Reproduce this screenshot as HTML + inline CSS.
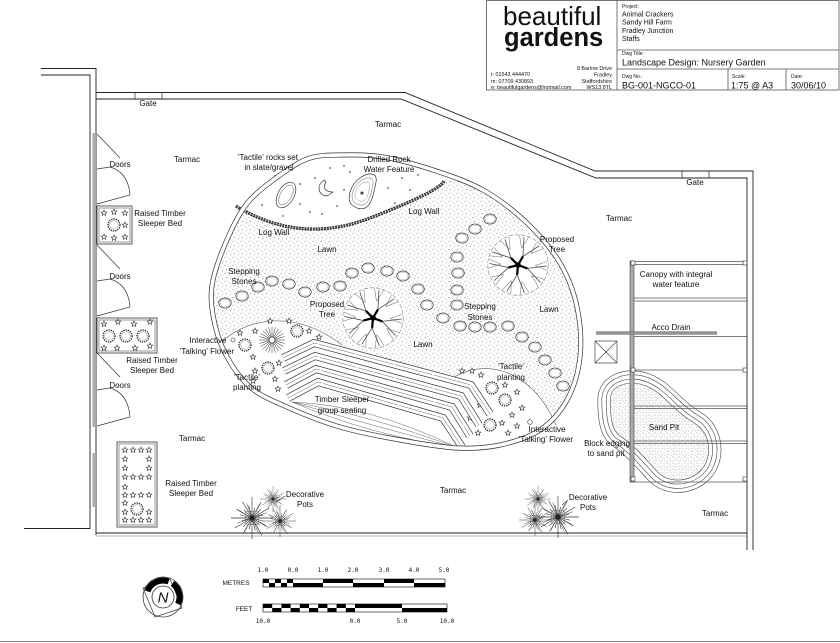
<!DOCTYPE html>
<html><head><meta charset="utf-8"><style>
html,body{margin:0;padding:0;background:#fff}
svg{display:block}
text{font-family:"Liberation Sans",sans-serif;fill:#111}
.l{font-size:8px;text-anchor:middle}
</style></head><body>
<svg width="840" height="643" viewBox="0 0 840 643" xmlns="http://www.w3.org/2000/svg">
<defs>
<pattern id="stp" width="8" height="8" patternUnits="userSpaceOnUse"><rect width="8" height="8" fill="#fff"/><circle cx="1" cy="1.5" r=".55" fill="#777"/><circle cx="5" cy="3" r=".5" fill="#888"/><circle cx="2.5" cy="5.5" r=".5" fill="#777"/><circle cx="6.5" cy="6.8" r=".55" fill="#888"/><circle cx="4" cy=".4" r=".4" fill="#999"/><circle cx="7.2" cy="4.2" r=".4" fill="#999"/></pattern>
<pattern id="snd" width="6" height="6" patternUnits="userSpaceOnUse"><rect width="6" height="6" fill="#fff"/><circle cx="1" cy="1" r=".5" fill="#777"/><circle cx="4" cy="2" r=".5" fill="#888"/><circle cx="2" cy="4.2" r=".5" fill="#777"/><circle cx="5" cy="5" r=".45" fill="#888"/></pattern>
<clipPath id="lc"><path d="M213 280 C215.8 266.3 223.8 246.3 230 233 C236.2 219.7 241.2 210 250 200 C258.8 190 273 180 283 173 C293 166 300.5 161 310 158 C319.5 155 327.8 155.2 340 155 C352.2 154.8 367.5 154.5 383 157 C398.5 159.5 416.3 164.5 433 170 C449.7 175.5 467.3 181.2 483 190 C498.7 198.8 514.2 210.8 527 223 C539.8 235.2 551.7 249 560 263 C568.3 277 573.7 291.3 577 307 C580.3 322.7 581.7 341.5 580 357 C578.3 372.5 573.7 387.8 567 400 C560.3 412.2 551.2 422.5 540 430 C528.8 437.5 513.8 442 500 445 C486.2 448 473.7 448.8 457 448 C440.3 447.2 419.5 443.5 400 440 C380.5 436.5 358.8 432.5 340 427 C321.2 421.5 302 413.7 287 407 C272 400.3 260.3 396 250 387 C239.7 378 231.2 365 225 353 C218.8 341 215 327.2 213 315 C211 302.8 210.2 293.7 213 280 Z"/></clipPath>
<path id="lawn" d="M213 280 C215.8 266.3 223.8 246.3 230 233 C236.2 219.7 241.2 210 250 200 C258.8 190 273 180 283 173 C293 166 300.5 161 310 158 C319.5 155 327.8 155.2 340 155 C352.2 154.8 367.5 154.5 383 157 C398.5 159.5 416.3 164.5 433 170 C449.7 175.5 467.3 181.2 483 190 C498.7 198.8 514.2 210.8 527 223 C539.8 235.2 551.7 249 560 263 C568.3 277 573.7 291.3 577 307 C580.3 322.7 581.7 341.5 580 357 C578.3 372.5 573.7 387.8 567 400 C560.3 412.2 551.2 422.5 540 430 C528.8 437.5 513.8 442 500 445 C486.2 448 473.7 448.8 457 448 C440.3 447.2 419.5 443.5 400 440 C380.5 436.5 358.8 432.5 340 427 C321.2 421.5 302 413.7 287 407 C272 400.3 260.3 396 250 387 C239.7 378 231.2 365 225 353 C218.8 341 215 327.2 213 315 C211 302.8 210.2 293.7 213 280 Z"/>
<path id="star" d="M0,-3 L0.76,-1.05 L2.85,-0.93 L1.24,0.4 L1.76,2.43 L0,1.3 L-1.76,2.43 L-1.24,0.4 L-2.85,-0.93 L-0.76,-1.05Z" fill="#fff" stroke="#333" stroke-width=".6"/>
<g id="shrub"><circle r="6" fill="#fff" stroke="#222" stroke-width="1.3" stroke-dasharray="1.3 1"/><circle r="4.3" fill="none" stroke="#666" stroke-width=".4"/></g>
<g id="stone"><ellipse rx="6.2" ry="5" fill="#fff" stroke="#444" stroke-width=".8"/><ellipse rx="4.8" ry="3.8" fill="none" stroke="#999" stroke-width=".4"/></g>
<g id="tree">
<circle r="29" fill="#fff"/>
<circle r="27.5" fill="none" stroke="#888" stroke-width=".6" stroke-dasharray="4 1.5"/>
<path d="M15.6 .5L26.8 -3.3M15.6 .5L26.5 5.2M12.3 9.6L23.6 13.1M12.3 9.6L18.4 19.7M3.5 15.2L10.1 25M3.5 15.2L1.9 26.9M-6.1 14.3L-6.5 26.2M-6.1 14.3L-14.3 22.9M-13.1 8.5L-20.1 18.1M-13.1 8.5L-24.7 11M-15.6 -.8L-26.9 2.8M-15.6 -.8L-26.4 -5.6M-13.9 -7.1L-25.7 -8.3M-13.9 -7.1L-21.8 -15.9M-7.1 -13.9L-15.9 -21.8M-7.1 -13.9L-8.3 -25.7M3.2 -15.2L1.4 -27M3.2 -15.2L9.7 -25.2M11.6 -10.4L17 -21M11.6 -10.4L22.6 -14.7" stroke="#777" stroke-width=".5" fill="none"/>
<path d="M8.5 3.1L26 .9M8.5 3.1L20.5 16M-.8 9L5.8 25.3M-.8 9L-10.2 23.9M-8.7 2.3L-21.8 14.2M-8.7 2.3L-26 -1.4M-6.4 -6.4L-23.2 -11.8M-6.4 -6.4L-11.8 -23.2M4.5 -7.8L5.4 -25.4M4.5 -7.8L19.3 -17.4" stroke="#444" stroke-width=".7" fill="none"/>
<path d="M0 0L8.5 3.1M0 0L-.8 9M0 0L-8.7 2.3M0 0L-6.4 -6.4M0 0L4.5 -7.8" stroke="#000" stroke-width="2" fill="none"/>
<circle r="2.6" fill="#000"/>
</g>
<g id="pot">
<rect x="-6" y="-6" width="12" height="12" fill="none" stroke="#888" stroke-width=".5"/>
<path d="M0 0L20 0M0 0L11.6 3.1M0 0L14.7 8.5M0 0L7.1 7.1M0 0L9.5 16.5M0 0L3.1 11.6M0 0L0 20M0 0L-2.8 10.6M0 0L-8 13.9M0 0L-8.5 8.5M0 0L-16.5 9.5M0 0L-9.7 2.6M0 0L-20 0M0 0L-11.6 -3.1M0 0L-14.7 -8.5M0 0L-7.8 -7.8M0 0L-9 -15.6M0 0L-3.1 -11.6M0 0L0 -20M0 0L2.6 -9.7M0 0L8.5 -14.7M0 0L8.5 -8.5M0 0L16.5 -9.5M0 0L10.6 -2.8" stroke="#333" stroke-width=".6"/>
<path d="M0 0L13 7M0 0L6 14M0 0L-7 13M0 0L-14 5M0 0L-13 -7M0 0L-5 -14M0 0L7 -13M0 0L14 -5" stroke="#555" stroke-width=".5"/>
<circle r="2" fill="#222"/>
</g>
<path id="burst" d="M3 0L13 0M2.9 .78L12.6 3.4M2.6 1.5L11.3 6.5M2.1 2.1L9.2 9.2M1.5 2.6L6.5 11.3M.78 2.9L3.4 12.6M0 3L0 13M-.78 2.9L-3.4 12.6M-1.5 2.6L-6.5 11.3M-2.1 2.1L-9.2 9.2M-2.6 1.5L-11.3 6.5M-2.9 .78L-12.6 3.4M-3 0L-13 0M-2.9 -.78L-12.6 -3.4M-2.6 -1.5L-11.3 -6.5M-2.1 -2.1L-9.2 -9.2M-1.5 -2.6L-6.5 -11.3M-.78 -2.9L-3.4 -12.6M0 -3L0 -13M.78 -2.9L3.4 -12.6M1.5 -2.6L6.5 -11.3M2.1 -2.1L9.2 -9.2M2.6 -1.5L11.3 -6.5M2.9 -.78L12.6 -3.4" stroke="#222" stroke-width=".5"/>
</defs>
<rect width="840" height="643" fill="#fff"/>

<!-- TITLE BLOCK -->
<g stroke="#555" stroke-width=".8" fill="none">
<rect x="486.5" y="0.5" width="352.5" height="89.5"/>
<line x1="617" y1="0" x2="617" y2="90"/>
<line x1="617" y1="50" x2="839" y2="50"/>
<line x1="617" y1="69" x2="839" y2="69"/>
<line x1="728" y1="69" x2="728" y2="90"/>
<line x1="786" y1="69" x2="786" y2="90"/>
</g>
<text x="503" y="25" style="font-size:26px">beautiful</text>
<text x="504" y="46" style="font-size:25.5px;font-weight:bold">gardens</text>
<g style="font-size:5.4px">
<text x="491" y="76">t: 01543 444470</text>
<text x="491" y="83">m: 07709 430893</text>
<text x="491" y="89">e: beautifulgardens@hotmail.com</text>
<text x="612" y="70" text-anchor="end">8 Barlow Drive</text>
<text x="612" y="76.5" text-anchor="end">Fradley</text>
<text x="612" y="83" text-anchor="end">Staffordshire</text>
<text x="612" y="89" text-anchor="end">WS13 8TL</text>
</g>
<text x="622" y="8" style="font-size:5px">Project:</text>
<g style="font-size:7px">
<text x="622" y="16.5">Animal Crackers</text>
<text x="622" y="24.5">Sandy Hill Farm</text>
<text x="622" y="33">Fradley Junction</text>
<text x="622" y="41">Staffs</text>
</g>
<text x="622" y="55" style="font-size:5px">Dwg Title:</text>
<text x="622" y="65.5" style="font-size:9px">Landscape Design: Nursery Garden</text>
<text x="622" y="78" style="font-size:5px">Dwg No.:</text>
<text x="622" y="88.5" style="font-size:9px">BG-001-NGCO-01</text>
<text x="732" y="78" style="font-size:5px">Scale:</text>
<text x="731" y="88.5" style="font-size:9px">1:75 @ A3</text>
<text x="791" y="78" style="font-size:5px">Date:</text>
<text x="791" y="88.5" style="font-size:9px">30/06/10</text>

<!-- BOUNDARIES -->
<g stroke="#222" stroke-width=".9" fill="none">
<path d="M41 68.5 H96 V535"/>
<path d="M41 75 H90 V528.5 H24"/>
<path d="M96 92.5 H405 L595 171 H753 V550"/>
<path d="M96 99 H401 L596 178 H747 V550"/>
<line x1="96" y1="533" x2="747" y2="533"/>
<line x1="96" y1="536" x2="747" y2="536" stroke="#777" stroke-width=".6"/>
<path d="M135 92.5V99M162 92.5V99M682 171V178M709 171V178" stroke-width=".7"/>
</g>
<rect x="92.5" y="133" width="3.5" height="294" fill="#aaa"/>
<rect x="92.5" y="453" width="3.5" height="54" fill="#aaa"/>
<!-- doors -->
<g stroke="#333" stroke-width=".7" fill="none">
<path d="M97 134L120 158M97 169L110 167Q128 172 130 195L97 204"/>
<path d="M97 245L120 269M97 281L110 279Q128 284 130 307L97 316"/>
<path d="M97 353L120 377M97 390L110 388Q128 393 130 417L97 426"/>
</g>
<!-- raised beds -->
<g stroke="#333" stroke-width=".8" fill="#fff">
<rect x="97" y="206" width="35" height="38"/><rect x="99" y="208" width="31" height="34" fill="none" stroke-width=".5"/>
<rect x="97" y="318" width="60" height="35"/><rect x="99" y="320" width="56" height="31" fill="none" stroke-width=".5"/>
<rect x="117" y="442" width="40" height="85"/><rect x="119" y="444" width="36" height="81" fill="none" stroke-width=".5"/>
</g>
<use href="#shrub" x="114" y="225"/>
<use href="#star" x="104" y="213"/><use href="#star" x="114" y="212"/><use href="#star" x="125" y="213"/><use href="#star" x="125" y="225"/><use href="#star" x="104" y="237"/><use href="#star" x="114" y="238"/><use href="#star" x="125" y="237"/>
<use href="#shrub" x="109" y="336"/><use href="#shrub" x="126" y="336"/><use href="#shrub" x="143" y="336"/>
<use href="#star" x="104" y="324"/><use href="#star" x="118" y="322"/><use href="#star" x="134" y="324"/><use href="#star" x="150" y="322"/><use href="#star" x="104" y="348"/><use href="#star" x="117" y="348"/><use href="#star" x="135" y="348"/><use href="#star" x="150" y="346"/>
<g>
<use href="#star" x="125" y="450"/><use href="#star" x="133" y="450"/><use href="#star" x="141" y="450"/><use href="#star" x="149" y="450"/>
<use href="#star" x="125" y="459"/><use href="#star" x="149" y="459"/><use href="#star" x="125" y="468"/><use href="#star" x="149" y="468"/>
<use href="#star" x="125" y="477"/><use href="#star" x="133" y="477"/><use href="#star" x="141" y="477"/><use href="#star" x="149" y="477"/>
<use href="#star" x="125" y="487"/><use href="#star" x="125" y="495"/><use href="#star" x="133" y="495"/><use href="#star" x="141" y="495"/><use href="#star" x="149" y="495"/>
<use href="#star" x="125" y="503"/><use href="#star" x="125" y="512"/><use href="#star" x="149" y="512"/>
<use href="#star" x="125" y="520"/><use href="#star" x="133" y="520"/><use href="#star" x="141" y="520"/><use href="#star" x="149" y="520"/>
<use href="#shrub" x="137" y="509"/>
</g>

<!-- LAWN -->
<use href="#lawn" fill="url(#stp)"/>
<g clip-path="url(#lc)" fill="#fff">
<path d="M225 215 L236 206 Q300 245 370 218 T442 182 L470 170 L470 120 L200 120 L200 215 Z"/>
<path d="M218 348 C236 322 290 305 342 345 L452 378 C480 356 530 365 556 425 L600 470 L200 470 Z"/>
</g>
<g stroke="#555" stroke-width=".6" fill="none">
<path d="M220 344 C240 322 290 305 342 345"/>
<path d="M450 380 C480 358 530 365 556 425"/>
</g>
<!-- gravel marks -->
<g fill="none" stroke="#555" stroke-width=".5">
<circle cx="265" cy="185" r=".9"/><circle cx="275" cy="176" r=".9"/><circle cx="300" cy="204" r=".9"/><circle cx="310" cy="212" r=".9"/><circle cx="322" cy="214" r=".9"/><circle cx="337" cy="206" r=".9"/><circle cx="344" cy="190" r=".9"/><circle cx="350" cy="172" r=".9"/><circle cx="344" cy="166" r=".9"/><circle cx="292" cy="170" r=".9"/><circle cx="262" cy="205" r=".9"/><circle cx="283" cy="216" r=".9"/><circle cx="315" cy="178" r=".9"/><circle cx="402" cy="178" r=".9"/><circle cx="410" cy="190" r=".9"/><circle cx="418" cy="175" r=".9"/><circle cx="395" cy="203" r=".9"/><circle cx="330" cy="168" r=".9"/><circle cx="256" cy="196" r=".9"/><circle cx="388" cy="188" r=".9"/><circle cx="300" cy="184" r=".9"/>
</g>
<!-- rocks -->
<g fill="none" stroke="#333" stroke-width=".7">
<ellipse cx="286" cy="195" rx="8" ry="14" transform="rotate(30 286 195)"/>
<ellipse cx="286" cy="195" rx="5.5" ry="11" transform="rotate(30 286 195)" stroke-width=".4"/>
<path d="M324 180 C316 186 318 195 327 196 L333 192 C326 192 322 188 326 182 Z"/>
<path d="M352 205 C346 200 350 185 360 178 C368 172 378 172 376 182 C374 192 372 205 365 208 C360 210 356 208 352 205 Z"/>
<path d="M352 205 C346 200 350 185 360 178 C368 172 378 172 376 182 C374 192 372 205 365 208 C360 210 356 208 352 205 Z" transform="translate(362 192) scale(.78) translate(-362 -192)" stroke-width=".5"/>
<path d="M352 205 C346 200 350 185 360 178 C368 172 378 172 376 182 C374 192 372 205 365 208 C360 210 356 208 352 205 Z" transform="translate(362 192) scale(.55) translate(-362 -192)" stroke-width=".5"/>
<circle cx="362" cy="193" r="1.2" fill="#555"/>
</g>
<!-- log wall -->
<path d="M236 206 Q300 245 370 218 T444 181" fill="none" stroke="#222" stroke-width="3.2" stroke-dasharray="2 .8"/>
<path d="M236 206 Q300 245 370 218 T444 181" fill="none" stroke="#bbb" stroke-width=".5"/>

<!-- stepping stones -->
<g>
<use href="#stone" x="225" y="303"/><use href="#stone" x="242" y="296"/><use href="#stone" x="258" y="287"/><use href="#stone" x="272" y="281"/><use href="#stone" x="289" y="284"/><use href="#stone" x="305" y="292"/><use href="#stone" x="323" y="287"/><use href="#stone" x="340" y="286"/><use href="#stone" x="352" y="273"/><use href="#stone" x="368" y="268"/><use href="#stone" x="387" y="271"/><use href="#stone" x="403" y="276"/><use href="#stone" x="418" y="289"/><use href="#stone" x="427" y="305"/><use href="#stone" x="443" y="318"/><use href="#stone" x="460" y="326"/><use href="#stone" x="475" y="327"/><use href="#stone" x="490" y="327"/><use href="#stone" x="508" y="326"/><use href="#stone" x="522" y="337"/><use href="#stone" x="535" y="347"/><use href="#stone" x="545" y="360"/><use href="#stone" x="555" y="373"/><use href="#stone" x="563" y="386"/><use href="#stone" x="457" y="257"/><use href="#stone" x="458" y="273"/><use href="#stone" x="457" y="290"/><use href="#stone" x="457" y="305"/><use href="#stone" x="462" y="238"/><use href="#stone" x="475" y="229"/><use href="#stone" x="490" y="219"/>
</g>
<!-- trees -->
<use href="#tree" transform="translate(373 318) scale(1.1)"/>
<use href="#tree" transform="translate(518 265) scale(1.1)"/>

<!-- planting left lobe -->
<use href="#burst" transform="translate(272 340)"/>
<circle cx="272" cy="340" r="3" fill="#fff" stroke="#222" stroke-width=".6"/>
<use href="#shrub" x="245" y="345"/><use href="#shrub" x="297" y="331"/><use href="#shrub" x="268" y="368"/>
<use href="#star" x="255" y="331"/><use href="#star" x="270" y="321"/><use href="#star" x="289" y="321"/><use href="#star" x="309" y="331"/><use href="#star" x="319" y="337"/><use href="#star" x="240" y="333"/><use href="#star" x="253" y="357"/><use href="#star" x="255" y="371"/><use href="#star" x="279" y="363"/><use href="#star" x="275" y="379"/><use href="#star" x="278" y="389"/><use href="#star" x="253" y="381"/>
<circle cx="233" cy="340" r="2" fill="#fff" stroke="#333" stroke-width=".6"/>
<!-- planting right lobe -->
<use href="#shrub" x="492" y="388"/><use href="#shrub" x="505" y="400"/><use href="#shrub" x="490" y="425"/>
<use href="#star" x="462" y="371"/><use href="#star" x="472" y="371"/><use href="#star" x="481" y="375"/><use href="#star" x="505" y="385"/><use href="#star" x="517" y="392"/><use href="#star" x="522" y="408"/><use href="#star" x="512" y="415"/><use href="#star" x="502" y="423"/><use href="#star" x="508" y="433"/><use href="#star" x="517" y="426"/><use href="#star" x="480" y="405"/><use href="#star" x="478" y="433"/><use href="#star" x="470" y="418"/>
<circle cx="530" cy="422" r="2.3" fill="#fff" stroke="#333" stroke-width=".6"/>

<!-- seating floor lines -->
<g fill="none" stroke="#666" stroke-width=".5">
<path d="M292 402 Q370 405 458 448"/>
<path d="M292 402 Q370 415 458 448"/>
<path d="M292 402 Q370 425 458 448"/>
<path d="M292 402 Q370 435 458 448"/>
</g>
<!-- benches -->
<g fill="none" stroke-linejoin="miter">
<g stroke="#333" stroke-width="7.8">
<polyline points="283,358 314,343 471,385 490,414"/>
<polyline points="284,371 315,356 461,396 479,425"/>
<polyline points="286,385 316,369 452,407 470,436"/>
<polyline points="288,398 318,382 443,418 462,447"/>
</g>
<g stroke="#fff" stroke-width="6.4">
<polyline points="283,358 314,343 471,385 490,414"/>
<polyline points="284,371 315,356 461,396 479,425"/>
<polyline points="286,385 316,369 452,407 470,436"/>
<polyline points="288,398 318,382 443,418 462,447"/>
</g>
<g stroke="#666" stroke-width=".5" stroke-dasharray="38 1.5">
<polyline points="283,358 314,343 471,385 490,414"/>
<polyline points="284,371 315,356 461,396 479,425"/>
<polyline points="286,385 316,369 452,407 470,436"/>
<polyline points="288,398 318,382 443,418 462,447"/>
</g>
</g>
<!-- lawn outline -->
<use href="#lawn" fill="none" stroke="#333" stroke-width="5"/>
<use href="#lawn" fill="none" stroke="#fff" stroke-width="3.6"/>

<!-- X box & drain -->
<g stroke="#444" stroke-width=".7" fill="none">
<rect x="595" y="341" width="22" height="22"/>
<path d="M595 341L617 363M617 341L595 363"/>
</g>
<!-- sand pit -->
<path d="M604 400 C604 380 628 372 648 380 C668 388 676 405 698 418 C718 430 720 460 705 475 C690 490 665 490 652 475 C640 462 630 450 615 440 C605 432 604 415 604 400 Z" fill="url(#snd)" stroke="#444" stroke-width="13"/>
<path d="M604 400 C604 380 628 372 648 380 C668 388 676 405 698 418 C718 430 720 460 705 475 C690 490 665 490 652 475 C640 462 630 450 615 440 C605 432 604 415 604 400 Z" fill="none" stroke="#fff" stroke-width="11.8"/>
<path d="M604 400 C604 380 628 372 648 380 C668 388 676 405 698 418 C718 430 720 460 705 475 C690 490 665 490 652 475 C640 462 630 450 615 440 C605 432 604 415 604 400 Z" fill="none" stroke="#444" stroke-width="5"/>
<path d="M604 400 C604 380 628 372 648 380 C668 388 676 405 698 418 C718 430 720 460 705 475 C690 490 665 490 652 475 C640 462 630 450 615 440 C605 432 604 415 604 400 Z" fill="none" stroke="#fff" stroke-width="3.8"/>
<!-- canopy -->
<rect x="630" y="261" width="4" height="221" fill="#aaa" stroke="#444" stroke-width=".6"/>
<g stroke="#555" stroke-width=".7">
<path d="M630 261.5H747M634 264.5H747M634 298H747M634 301H747M634 336.5H747M634 370H747M634 406H747M634 408.5H747M634 441H747M634 443.5H747M630 482H747"/>
</g>
<line x1="596" y1="333" x2="717" y2="333" stroke="#555" stroke-width="3"/>
<line x1="596" y1="333" x2="717" y2="333" stroke="#aaa" stroke-width="1.4"/>
<g fill="#fff" stroke="#333" stroke-width=".6">
<rect x="631" y="261" width="4" height="4"/><rect x="743" y="261" width="4" height="4"/>
<rect x="631" y="368" width="4" height="4"/><rect x="743" y="368" width="4" height="4"/>
<rect x="631" y="477" width="4" height="4"/><rect x="743" y="477" width="4" height="4"/>
</g>

<!-- decorative pots -->
<use href="#pot" transform="translate(252 518) scale(1.05)"/>
<use href="#pot" transform="translate(273 499) scale(.65)"/>
<use href="#pot" transform="translate(280 521) scale(.8)"/>
<use href="#pot" transform="translate(538 499) scale(.65)"/>
<use href="#pot" transform="translate(535 520) scale(.8)"/>
<use href="#pot" transform="translate(558 517) scale(1.05)"/>
<path d="M285 496L276 502M568 500L562 505" stroke="#333" stroke-width=".6"/>

<!-- LABELS -->
<g class="l">
<text class="l" x="148" y="106">Gate</text>
<text class="l" x="388" y="127">Tarmac</text>
<text class="l" x="120" y="167">Doors</text>
<text class="l" x="187" y="162">Tarmac</text>
<text class="l" x="268" y="160">'Tactile' rocks set</text>
<text class="l" x="269" y="170">in slate/gravel</text>
<text class="l" x="389" y="162">Drilled Rock</text>
<text class="l" x="389" y="172">Water Feature</text>
<text class="l" x="424" y="214">Log Wall</text>
<text class="l" x="274" y="235">Log Wall</text>
<text class="l" x="160" y="216">Raised Timber</text>
<text class="l" x="160" y="226">Sleeper Bed</text>
<text class="l" x="695" y="185">Gate</text>
<text class="l" x="619" y="221">Tarmac</text>
<text class="l" x="327" y="252">Lawn</text>
<text class="l" x="557" y="242">Proposed</text>
<text class="l" x="557" y="252">Tree</text>
<text class="l" x="244" y="274">Stepping</text>
<text class="l" x="244" y="284">Stones</text>
<text class="l" x="120" y="279">Doors</text>
<text class="l" x="676" y="277">Canopy with integral</text>
<text class="l" x="676" y="287">water feature</text>
<text class="l" x="327" y="307">Proposed</text>
<text class="l" x="327" y="317">Tree</text>
<text class="l" x="480" y="309">Stepping</text>
<text class="l" x="480" y="320">Stones</text>
<text class="l" x="549" y="312">Lawn</text>
<text class="l" x="671" y="330">Acco Drain</text>
<text class="l" x="208" y="343">Interactive</text>
<text class="l" x="207" y="354">'Talking' Flower</text>
<text class="l" x="423" y="347">Lawn</text>
<text class="l" x="152" y="363">Raised Timber</text>
<text class="l" x="152" y="373">Sleeper Bed</text>
<text class="l" x="120" y="388">Doors</text>
<text class="l" x="247" y="380">'Tactile'</text>
<text class="l" x="247" y="390">planting</text>
<text class="l" x="511" y="369">'Tactile'</text>
<text class="l" x="511" y="380">planting</text>
<text class="l" x="342" y="402">Timber Sleeper</text>
<text class="l" x="342" y="413">group seating</text>
<text class="l" x="664" y="430">Sand Pit</text>
<text class="l" x="547" y="432">Interactive</text>
<text class="l" x="546" y="442">'Talking' Flower</text>
<text class="l" x="192" y="441">Tarmac</text>
<text class="l" x="607" y="446">Block edging</text>
<text class="l" x="606" y="456">to sand pit</text>
<text class="l" x="191" y="486">Raised Timber</text>
<text class="l" x="191" y="496">Sleeper Bed</text>
<text class="l" x="305" y="497">Decorative</text>
<text class="l" x="305" y="507">Pots</text>
<text class="l" x="453" y="493">Tarmac</text>
<text class="l" x="588" y="500">Decorative</text>
<text class="l" x="588" y="510">Pots</text>
<text class="l" x="715" y="516">Tarmac</text>
</g>

<!-- NORTH ARROW -->
<g fill="none">
<circle cx="163" cy="597" r="20" stroke="#333" stroke-width=".8"/>
<polygon points="143,588 155,617 182,608 170,579" stroke="#333" stroke-width=".7"/>
<path d="M147.5 591.4 A16.5 16.5 0 0 1 168.6 581.5" stroke="#000" stroke-width="6"/>
<path d="M172.5 583.5 A16.5 16.5 0 0 1 178 604" stroke="#000" stroke-width="6"/>
<circle cx="163" cy="597" r="11" fill="#fff" stroke="#333" stroke-width=".8"/>
</g>
<text x="163" y="602.5" text-anchor="middle" style="font-size:15px;font-style:italic">N</text>

<!-- SCALE BARS -->
<g style="font-size:6px" text-anchor="middle">
<text x="263" y="572" style="font-family:'DejaVu Sans Mono',monospace">1.0</text>
<text x="293" y="572" style="font-family:'DejaVu Sans Mono',monospace">0.0</text>
<text x="323" y="572" style="font-family:'DejaVu Sans Mono',monospace">1.0</text>
<text x="353" y="572" style="font-family:'DejaVu Sans Mono',monospace">2.0</text>
<text x="384" y="572" style="font-family:'DejaVu Sans Mono',monospace">3.0</text>
<text x="414" y="572" style="font-family:'DejaVu Sans Mono',monospace">4.0</text>
<text x="444" y="572" style="font-family:'DejaVu Sans Mono',monospace">5.0</text>
<text x="263" y="623" style="font-family:'DejaVu Sans Mono',monospace">10.0</text>
<text x="355" y="623" style="font-family:'DejaVu Sans Mono',monospace">0.0</text>
<text x="402" y="623" style="font-family:'DejaVu Sans Mono',monospace">5.0</text>
<text x="447" y="623" style="font-family:'DejaVu Sans Mono',monospace">10.0</text>
</g>
<text x="236" y="585" text-anchor="middle" style="font-size:6.5px">METRES</text>
<text x="244" y="611" text-anchor="middle" style="font-size:6.5px">FEET</text>
<g fill="#000">
<rect x="263" y="579" width="6" height="4"/><rect x="269" y="583" width="6" height="4"/><rect x="275" y="579" width="6" height="4"/><rect x="281" y="583" width="6" height="4"/><rect x="287" y="579" width="6" height="4"/>
<rect x="293" y="583" width="30" height="4"/><rect x="323" y="579" width="30" height="4"/><rect x="353" y="583" width="31" height="4"/><rect x="384" y="579" width="30" height="4"/><rect x="414" y="583" width="31" height="4"/>
<rect x="263" y="604" width="9.2" height="4"/><rect x="272.2" y="608" width="9.2" height="4"/><rect x="281.4" y="604" width="9.2" height="4"/><rect x="290.6" y="608" width="9.2" height="4"/><rect x="299.8" y="604" width="9.2" height="4"/><rect x="309" y="608" width="9.2" height="4"/><rect x="318.2" y="604" width="9.2" height="4"/><rect x="327.4" y="608" width="9.2" height="4"/><rect x="336.6" y="604" width="9.2" height="4"/><rect x="345.8" y="608" width="9.2" height="4"/>
<rect x="355" y="604" width="47" height="4"/><rect x="402" y="608" width="45" height="4"/>
</g>
<g fill="none" stroke="#000" stroke-width=".6">
<rect x="263" y="579" width="182" height="8"/>
<rect x="263" y="604" width="184" height="8"/>
</g>
<line x1="0" y1="641.5" x2="840" y2="641.5" stroke="#888" stroke-width="1"/>
</svg>
</body></html>
